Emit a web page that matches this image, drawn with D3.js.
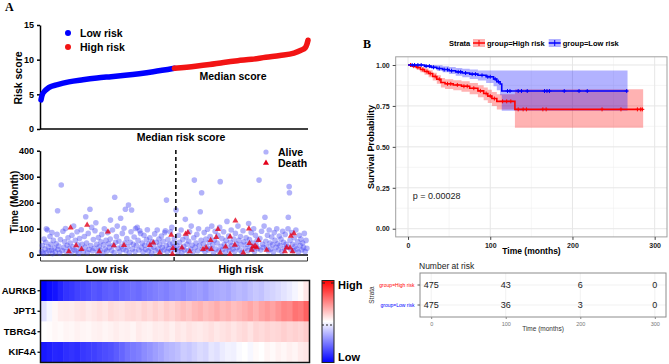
<!DOCTYPE html>
<html>
<head>
<meta charset="utf-8">
<script src="https://cdn.jsdelivr.net/npm/d3@7"></script>
<style>
body { margin: 0; background: #fff; }
svg { display: block; font-family: "Liberation Sans", Arial, sans-serif; }
</style>
</head>
<body>
<svg width="669" height="364"></svg>
<script>
// ---------- panel A data ----------
const nPatients = 950;
const medianRank = 475;
const scoreRank = [1, 5, 15, 30, 60, 100, 150, 200, 250, 300, 350, 400, 475, 550, 600, 650, 700, 750, 800, 850, 900, 925, 940, 946, 950];
const scoreValue = [4.2, 4.9, 5.5, 6.0, 6.4, 6.8, 7.1, 7.35, 7.55, 7.75, 7.98, 8.25, 8.75, 9.05, 9.3, 9.6, 9.85, 10.05, 10.35, 10.6, 10.95, 11.35, 11.7, 12.2, 12.8];

// [patient rank, time in months]
const alivePts = [
  [3,12],[6,35],[9,5],[12,60],[15,22],[18,48],[21,8],[24,95],[27,30],[30,15],[33,70],[36,40],[39,18],[42,4],[45,55],[48,26],[20,100],[40,85],
  [52,10],[55,42],[58,78],[61,20],[64,33],[67,6],[70,58],[73,268],[76,16],[79,90],[82,28],[85,50],[88,101],[91,12],[94,36],[97,65],[60,169],
  [102,24],[105,45],[108,8],[111,75],[114,30],[117,110],[120,18],[123,55],[126,14],[129,88],[132,38],[135,5],[138,62],[141,22],[144,96],[147,40],
  [152,12],[155,70],[158,28],[160,146],[163,45],[166,8],[169,82],[172,20],[175,175],[178,35],[181,105],[184,15],[187,58],[190,25],[193,92],[196,123],[199,40],
  [202,10],[205,66],[208,30],[211,18],[214,50],[217,78],[220,6],[223,38],[226,100],[229,22],[232,55],[235,14],[238,85],[241,42],[244,28],[247,60],[248,133],
  [252,16],[255,95],[258,35],[261,8],[263,221],[266,48],[269,70],[272,110],[275,25],[278,52],[281,12],[284,140],[287,32],[290,82],[293,20],[296,102],[299,45],
  [301,175],[303,15],[306,62],[309,30],[312,191],[315,8],[318,48],[321,88],[323,172],[326,22],[329,40],[332,68],[335,12],[337,101],[340,35],[343,105],[346,55],[349,18],
  [352,92],[355,82],[358,28],[361,45],[364,10],[367,75],[370,36],[373,20],[376,58],[379,96],[382,14],[385,42],[388,65],[391,25],[394,5],[397,50],
  [402,30],[405,80],[408,15],[411,48],[414,95],[417,22],[420,60],[423,38],[426,10],[429,72],[432,28],[435,52],[438,18],[441,85],[443,92],[446,35],[447,210],[449,12],
  [452,58],[455,24],[458,40],[461,88],[464,16],[466,105],[469,45],[472,30],[475,62],[478,20],[481,172],
  [484,35],[487,12],[490,75],[493,48],[496,25],[499,95],[502,8],[505,58],[508,32],[511,18],[514,136],[517,68],[520,40],[523,14],
  [526,52],[529,88],[532,22],[535,110],[538,36],[541,10],[544,65],[546,287],[549,28],[552,45],[555,78],[558,15],[561,100],[564,35],[567,165],[570,55],[572,238],[574,20],
  [578,42],[581,85],[584,12],[587,60],[590,30],[593,98],[596,18],[599,48],[602,70],[605,25],[608,110],[611,38],[614,8],[617,56],[620,90],[623,22],
  [627,45],[630,75],[633,14],[636,105],[638,281],[641,32],[644,62],[647,20],[650,88],[653,40],[656,10],[659,55],[662,128],[665,28],[668,72],[671,16],[674,48],
  [677,95],[680,35],[683,22],[686,60],[689,12],[692,82],[695,42],[698,28],[701,110],[704,55],[707,18],[710,70],[713,38],[716,8],[719,92],[722,50],
  [727,25],[730,65],[733,40],[736,15],[739,120],[742,58],[745,30],[748,85],[751,20],[754,45],[757,100],[760,12],[763,75],[766,35],[769,55],[772,24],[776,287],
  [779,62],[782,18],[785,90],[788,40],[791,28],[794,110],[797,144],[800,52],[803,30],[806,75],[809,15],[812,95],[815,45],[818,22],[821,68],[824,38],
  [827,10],[830,85],[833,55],[836,28],[839,100],[842,42],[845,18],[848,72],[851,35],[854,60],[857,12],[860,90],[863,48],[866,25],[869,78],[872,40],
  [876,30],[879,100],[880,144],[883,262],[884,238],[886,55],[889,20],[892,85],[895,40],[898,15],[901,65],[904,32],[907,95],[910,22],[913,50],[916,10],
  [919,75],[922,35],[925,60],[928,18],[931,45],[934,28],[937,82],[940,12],[943,55],[946,25]
];
const deathPts = [
  [106,104],[165,114],[239,88],[126,35],[145,21],[208,12],[260,35],[296,36],[388,36],[400,46],[464,76],[470,25],[468,3],[423,8],[100,12],
  [515,80],[523,85],[502,27],[530,12],[577,21],[588,27],[630,98],[624,67],[606,21],[638,8],[657,31],[673,69],[673,3],[692,131],[690,37],
  [720,8],[740,100],[742,44],[754,31],[762,33],[768,28],[750,18],[774,56],[803,18],[868,12],[874,28],[886,27],[889,72],[900,82],[895,12],[604,56]
];

const genes = ["AURKB", "JPT1", "TBRG4", "KIF4A"];
const exprAURKB = [-1.0,-0.95,-0.92,-0.86,-0.8,-0.78,-0.74,-0.72,-0.7,-0.66,-0.68,-0.64,-0.62,-0.64,-0.6,-0.58,-0.56,-0.58,-0.54,-0.52,-0.5,-0.48,-0.5,-0.46,-0.44,-0.46,-0.42,-0.4,-0.38,-0.41,-0.36,-0.34,-0.32,-0.34,-0.3,-0.27,-0.29,-0.25,-0.22,-0.24,-0.19,-0.17,-0.14,-0.11,-0.08,-0.04,0.02,0.1];
const exprJPT1 = [-0.12,-0.04,0.03,0.07,0.08,0.07,0.1,0.11,0.08,0.1,0.12,0.1,0.14,0.12,0.11,0.14,0.15,0.13,0.17,0.14,0.18,0.15,0.2,0.17,0.21,0.25,0.22,0.27,0.3,0.25,0.28,0.32,0.27,0.3,0.25,0.28,0.31,0.35,0.3,0.36,0.4,0.36,0.42,0.48,0.46,0.55,0.52,0.62];
const exprTBRG4 = [0.0,0.01,0.03,0.02,0.04,0.03,0.05,0.04,0.03,0.05,0.06,0.04,0.05,0.07,0.05,0.06,0.04,0.08,0.06,0.05,0.08,0.07,0.09,0.06,0.1,0.08,0.11,0.09,0.08,0.1,0.12,0.09,0.11,0.13,0.1,0.13,0.15,0.11,0.16,0.14,0.17,0.15,0.16,0.19,0.16,0.18,0.16,0.2];
const exprKIF4A = [-0.9,-0.88,-0.85,-0.86,-0.82,-0.8,-0.82,-0.78,-0.76,-0.75,-0.72,-0.7,-0.68,-0.64,-0.6,-0.55,-0.52,-0.5,-0.45,-0.42,-0.38,-0.35,-0.3,-0.28,-0.25,-0.2,-0.22,-0.18,-0.14,-0.16,-0.1,-0.12,-0.08,-0.05,-0.06,-0.02,0.0,-0.03,0.02,0.0,0.04,0.02,0.05,0.03,0.06,0.04,0.08,0.1];
const exprRows = [exprAURKB, exprJPT1, exprTBRG4, exprKIF4A];

// ---------- panel B data ----------
const lowTime  = [0, 20, 28, 35, 42, 50, 58, 66, 75, 85, 95, 104, 108, 112, 114];
const lowSurv  = [1.0, 0.993, 0.986, 0.979, 0.972, 0.965, 0.958, 0.951, 0.944, 0.937, 0.928, 0.914, 0.898, 0.884, 0.841];
const lowUpper = [1.0, 1.0, 1.0, 0.998, 0.993, 0.988, 0.982, 0.977, 0.972, 0.966, 0.966, 0.966, 0.966, 0.966, 0.966];
const lowLower = [1.0, 0.985, 0.975, 0.965, 0.955, 0.945, 0.935, 0.925, 0.915, 0.905, 0.89, 0.87, 0.845, 0.815, 0.72];
const lowEnd = 267;
const lowCensor = [5, 8, 12, 16, 22, 26, 31, 38, 44, 48, 53, 61, 64, 70, 78, 82, 90, 97, 100, 106, 110, 121, 124, 134, 138, 145, 166, 169, 172, 190, 208, 218, 266];

const highTime  = [0, 5, 10, 15, 20, 25, 30, 35, 40, 45, 55, 65, 75, 85, 92, 97, 102, 108, 130];
const highSurv  = [1.0, 0.993, 0.985, 0.972, 0.96, 0.948, 0.93, 0.913, 0.893, 0.885, 0.878, 0.87, 0.858, 0.842, 0.826, 0.81, 0.795, 0.778, 0.729];
const highUpper = [1.0, 1.0, 0.997, 0.987, 0.978, 0.968, 0.952, 0.937, 0.92, 0.913, 0.907, 0.9, 0.89, 0.876, 0.862, 0.848, 0.835, 0.822, 0.852];
const highLower = [1.0, 0.985, 0.972, 0.955, 0.94, 0.925, 0.905, 0.886, 0.863, 0.854, 0.846, 0.836, 0.822, 0.803, 0.785, 0.768, 0.75, 0.728, 0.617];
const highEnd = 286;
const highCensor = [3, 7, 12, 18, 23, 27, 33, 38, 48, 52, 60, 68, 72, 80, 88, 95, 100, 105, 115, 120, 125, 134, 140, 144, 164, 168, 236, 259, 279, 283, 285];

const strata = ["group=High risk", "group=Low risk"];
const riskTimes = [0, 100, 200, 300];
const atRiskHigh = [475, 43, 6, 0];
const atRiskLow = [475, 36, 3, 0];

const svg = d3.select("svg");
const RED = "#ff0000", BLUE = "#0000ff";

function styleAxis(g, size, weight, color) {
  g.selectAll("text").style("font-size", size + "px").style("font-weight", weight).attr("fill", color || "#000");
}

// ================= Panel A =================
svg.append("text").attr("x", 5).attr("y", 11).attr("font-family", "Liberation Serif, serif")
  .attr("font-weight", "bold").attr("font-size", 12).text("A");

const rx = d3.scaleLinear().domain([1, nPatients]).range([41, 308]);
const ry = d3.scaleLinear().domain([0, 15]).range([129, 25]);

const yAx1 = svg.append("g").attr("transform", "translate(40,0)")
  .call(d3.axisLeft(ry).tickValues([0, 5, 10, 15]).tickSize(3).tickSizeOuter(0));
yAx1.selectAll("path,line").attr("stroke", "#000").attr("stroke-width", 1.5);
styleAxis(yAx1, 9, "bold");
svg.append("line").attr("x1", 40).attr("x2", 308).attr("y1", 129).attr("y2", 129)
  .attr("stroke", "#000").attr("stroke-width", 1.5);

const scorePts = scoreRank.map((r, i) => [r, scoreValue[i]]);
const scoreLine = d3.line().x(d => rx(d[0])).y(d => ry(d[1])).curve(d3.curveMonotoneX);
svg.append("path").datum(scorePts.filter(d => d[0] <= medianRank))
  .attr("d", scoreLine).attr("fill", "none").attr("stroke", BLUE).attr("stroke-width", 5.5).attr("stroke-linecap", "round");
svg.append("path").datum(scorePts.filter(d => d[0] >= medianRank))
  .attr("d", scoreLine).attr("fill", "none").attr("stroke", "#f21414").attr("stroke-width", 5.5).attr("stroke-linecap", "round");

svg.append("circle").attr("cx", 68).attr("cy", 33).attr("r", 3).attr("fill", BLUE);
svg.append("text").attr("x", 80).attr("y", 37).attr("font-size", 10.5).attr("font-weight", "bold").text("Low risk");
svg.append("circle").attr("cx", 68).attr("cy", 47).attr("r", 3).attr("fill", "#f21414");
svg.append("text").attr("x", 80).attr("y", 51).attr("font-size", 10.5).attr("font-weight", "bold").text("High risk");
svg.append("text").attr("x", 233).attr("y", 80).attr("text-anchor", "middle").attr("font-size", 10.5)
  .attr("font-weight", "bold").text("Median score");
svg.append("text").attr("transform", "translate(22,78) rotate(-90)").attr("text-anchor", "middle")
  .attr("font-size", 10.5).attr("font-weight", "bold").text("Risk score");
svg.append("text").attr("x", 181).attr("y", 141).attr("text-anchor", "middle").attr("font-size", 10.5)
  .attr("font-weight", "bold").text("Median risk score");

// scatter of survival time
const sy = d3.scaleLinear().domain([0, 400]).range([254.7, 150.7]);
const yAx2 = svg.append("g").attr("transform", "translate(40,0)")
  .call(d3.axisLeft(sy).tickValues([0, 100, 200, 300, 400]).tickSize(3).tickSizeOuter(0));
yAx2.selectAll("path,line").attr("stroke", "#000").attr("stroke-width", 1.5);
styleAxis(yAx2, 9, "bold");
svg.append("line").attr("x1", 40).attr("x2", 308).attr("y1", 255).attr("y2", 255)
  .attr("stroke", "#000").attr("stroke-width", 1.5);

svg.append("g").selectAll("circle").data(alivePts).join("circle")
  .attr("cx", d => rx(d[0])).attr("cy", d => sy(d[1])).attr("r", 2.8)
  .attr("fill", "#3f3ff2").attr("fill-opacity", 0.4);
const tri = d3.symbol().type(d3.symbolTriangle).size(16);
svg.append("g").selectAll("path").data(deathPts).join("path")
  .attr("d", tri).attr("transform", d => `translate(${rx(d[0])},${sy(d[1])})`)
  .attr("fill", "#e3001a").attr("fill-opacity", 0.8);

svg.append("line").attr("x1", rx(medianRank) + 1.5).attr("x2", rx(medianRank) + 1.5).attr("y1", 150).attr("y2", 255)
  .attr("stroke", "#000").attr("stroke-width", 1.5).attr("stroke-dasharray", "4,3");

svg.append("circle").attr("cx", 266).attr("cy", 152).attr("r", 2.6).attr("fill", "#3f3ff2").attr("fill-opacity", 0.4);
svg.append("text").attr("x", 278).attr("y", 156).attr("font-size", 10.5).attr("font-weight", "bold").text("Alive");
svg.append("path").attr("d", tri).attr("transform", "translate(266,163)").attr("fill", "#e3001a");
svg.append("text").attr("x", 278).attr("y", 167).attr("font-size", 10.5).attr("font-weight", "bold").text("Death");
svg.append("text").attr("transform", "translate(18,202) rotate(-90)").attr("text-anchor", "middle")
  .attr("font-size", 10).attr("font-weight", "bold").text("Time (Month)");

// group brackets
const brackets = [["Low risk", 1, medianRank], ["High risk", medianRank + 2, nPatients]];
brackets.forEach(b => {
  const x0 = rx(b[1]) - 0.5, x1 = rx(b[2]) - 0.5;
  svg.append("path").attr("d", `M${x0},257 V261 H${x1} V257`).attr("fill", "none")
    .attr("stroke", "#333").attr("stroke-width", 1);
  svg.append("text").attr("x", (x0 + x1) / 2).attr("y", 273).attr("text-anchor", "middle")
    .attr("font-size", 10.5).attr("font-weight", "bold").text(b[0]);
});

// heatmap
const hx = d3.scaleBand().domain(d3.range(exprAURKB.length)).range([41, 309]);
const hy = d3.scaleBand().domain(genes).range([280.5, 362.5]);
const heatColor = d3.scaleLinear().domain([-1, 0, 1]).range([BLUE, "#ffffff", RED]);
genes.forEach((g, gi) => {
  svg.append("g").selectAll("rect").data(exprRows[gi]).join("rect")
    .attr("x", (d, i) => hx(i)).attr("y", hy(g))
    .attr("width", hx.bandwidth() + 0.5).attr("height", hy.bandwidth() + 0.3)
    .attr("fill", d => heatColor(d));
});
svg.append("rect").attr("x", 40.5).attr("y", 280.5).attr("width", 269).attr("height", 82)
  .attr("fill", "none").attr("stroke", "#111").attr("stroke-width", 1.5);
const gAx = svg.append("g").attr("transform", "translate(40,0)")
  .call(d3.axisLeft(hy).tickSize(2.5).tickPadding(1.5).tickSizeOuter(0));
gAx.select(".domain").remove();
gAx.selectAll("line").attr("stroke", "#000").attr("stroke-width", 1.2);
styleAxis(gAx, 9.5, "bold");

// colour legend
const defs = svg.append("defs");
const grad = defs.append("linearGradient").attr("id", "hmgrad").attr("x1", 0).attr("x2", 0).attr("y1", 0).attr("y2", 1);
[[0, RED], [0.5, "#ffffff"], [1, BLUE]].forEach(s =>
  grad.append("stop").attr("offset", s[0]).attr("stop-color", s[1]));
svg.append("rect").attr("x", 322).attr("y", 280.5).attr("width", 12).attr("height", 82)
  .attr("fill", "url(#hmgrad)").attr("stroke", "#222").attr("stroke-width", 1);
svg.append("line").attr("x1", 322).attr("x2", 334).attr("y1", 325).attr("y2", 325)
  .attr("stroke", "#222").attr("stroke-dasharray", "2,2");
svg.append("line").attr("x1", 322).attr("x2", 325).attr("y1", 283).attr("y2", 283).attr("stroke", "#222");
svg.append("line").attr("x1", 331).attr("x2", 334).attr("y1", 283).attr("y2", 283).attr("stroke", "#222");
svg.append("text").attr("x", 338).attr("y", 289).attr("font-size", 11).attr("font-weight", "bold").text("High");
svg.append("text").attr("x", 338).attr("y", 361).attr("font-size", 11).attr("font-weight", "bold").text("Low");

// ================= Panel B =================
svg.append("text").attr("x", 363).attr("y", 48).attr("font-family", "Liberation Serif, serif")
  .attr("font-weight", "bold").attr("font-size", 12).text("B");

const kx = d3.scaleLinear().domain([-15, 315]).range([395.7, 667]);
const ky = d3.scaleLinear().domain([-0.05, 1.05]).range([236.9, 56.8]);

// grid
const gridG = svg.append("g");
[50, 150, 250].forEach(t => gridG.append("line").attr("x1", kx(t)).attr("x2", kx(t)).attr("y1", 56.8).attr("y2", 236.9)
  .attr("stroke", "#f0f0f0").attr("stroke-width", 0.6));
[0.125, 0.375, 0.625, 0.875].forEach(v => gridG.append("line").attr("x1", 395.7).attr("x2", 667).attr("y1", ky(v)).attr("y2", ky(v))
  .attr("stroke", "#f0f0f0").attr("stroke-width", 0.6));
[0, 100, 200, 300].forEach(t => gridG.append("line").attr("x1", kx(t)).attr("x2", kx(t)).attr("y1", 56.8).attr("y2", 236.9)
  .attr("stroke", "#e6e6e6").attr("stroke-width", 1));
[0, 0.25, 0.5, 0.75, 1].forEach(v => gridG.append("line").attr("x1", 395.7).attr("x2", 667).attr("y1", ky(v)).attr("y2", ky(v))
  .attr("stroke", "#e6e6e6").attr("stroke-width", 1));

function stepData(times, surv, lower, upper, end) {
  const pts = times.map((t, i) => ({ t, s: surv[i], lo: lower[i], hi: upper[i] }));
  const last = pts[pts.length - 1];
  pts.push({ t: end, s: last.s, lo: last.lo, hi: last.hi });
  return pts;
}
function survAt(times, surv, t) {
  let s = surv[0];
  times.forEach((tt, i) => { if (tt <= t) s = surv[i]; });
  return s;
}
const groups = [
  { pts: stepData(highTime, highSurv, highLower, highUpper, highEnd), times: highTime, surv: highSurv, cens: highCensor, color: RED },
  { pts: stepData(lowTime, lowSurv, lowLower, lowUpper, lowEnd), times: lowTime, surv: lowSurv, cens: lowCensor, color: BLUE }
];
const band = d3.area().x(d => kx(d.t)).y0(d => ky(d.lo)).y1(d => ky(d.hi)).curve(d3.curveStepAfter);
const step = d3.line().x(d => kx(d.t)).y(d => ky(d.s)).curve(d3.curveStepAfter);
groups.forEach(g => {
  svg.append("path").datum(g.pts).attr("d", band).attr("fill", g.color).attr("fill-opacity", 0.3);
});
groups.forEach(g => {
  svg.append("path").datum(g.pts).attr("d", step).attr("fill", "none").attr("stroke", g.color).attr("stroke-width", 1.6);
  svg.append("g").selectAll("path").data(g.cens).join("path")
    .attr("d", d => { const x = kx(d), y = ky(survAt(g.times, g.surv, d)); return `M${x - 2},${y}H${x + 2}M${x},${y - 2}V${y + 2}`; })
    .attr("stroke", g.color).attr("stroke-width", 1);
});

svg.append("rect").attr("x", 395.7).attr("y", 56.8).attr("width", 271.3).attr("height", 180.1)
  .attr("fill", "none").attr("stroke", "#a0a0a0").attr("stroke-width", 1);

const kyAx = svg.append("g").attr("transform", "translate(395.7,0)")
  .call(d3.axisLeft(ky).tickValues([0, 0.25, 0.5, 0.75, 1]).tickFormat(d3.format(".2f")).tickSize(3).tickSizeOuter(0));
kyAx.select(".domain").remove();
kyAx.selectAll("line").attr("stroke", "#444");
styleAxis(kyAx, 7, "bold", "#222");
const kxAx = svg.append("g").attr("transform", "translate(0,236.9)")
  .call(d3.axisBottom(kx).tickValues(riskTimes).tickSize(3).tickSizeOuter(0));
kxAx.select(".domain").remove();
kxAx.selectAll("line").attr("stroke", "#444");
styleAxis(kxAx, 7, "bold", "#222");

svg.append("text").attr("transform", "translate(374,147) rotate(-90)").attr("text-anchor", "middle")
  .attr("font-size", 9).attr("font-weight", "bold").text("Survival Probability");
svg.append("text").attr("x", 531.5).attr("y", 254).attr("text-anchor", "middle")
  .attr("font-size", 8.5).attr("font-weight", "bold").text("Time (months)");
svg.append("text").attr("x", 412.7).attr("y", 199).attr("font-size", 9).attr("fill", "#222").text("p = 0.00028");

// legend
svg.append("text").attr("x", 449).attr("y", 46).attr("font-size", 7.5).attr("font-weight", "bold").text("Strata");
let lx = 473;
[["group=High risk", RED], ["group=Low risk", BLUE]].forEach(s => {
  svg.append("rect").attr("x", lx).attr("y", 39).attr("width", 12).attr("height", 8).attr("fill", s[1]).attr("fill-opacity", 0.3);
  svg.append("line").attr("x1", lx).attr("x2", lx + 12).attr("y1", 43).attr("y2", 43).attr("stroke", s[1]).attr("stroke-width", 1.5);
  svg.append("path").attr("d", `M${lx + 6},40V46`).attr("stroke", s[1]).attr("stroke-width", 1);
  const t = svg.append("text").attr("x", lx + 14).attr("y", 46).attr("font-size", 7.5).attr("font-weight", "bold").text(s[0]);
  lx += 14 + t.node().getComputedTextLength() + 4;
});

// risk table
const tx = d3.scaleLinear().domain([-15, 315]).range([420, 666]);
const ty = d3.scaleBand().domain(strata).range([273, 317]).paddingOuter(0.1);
svg.append("text").attr("x", 419).attr("y", 269).attr("font-size", 8.5).attr("fill", "#222").text("Number at risk");
[0, 100, 200, 300].forEach(t => svg.append("line").attr("x1", tx(t)).attr("x2", tx(t)).attr("y1", 273).attr("y2", 317)
  .attr("stroke", "#ededed").attr("stroke-width", 0.8));
strata.forEach(s => svg.append("line").attr("x1", 420).attr("x2", 666).attr("y1", ty(s) + ty.bandwidth() / 2).attr("y2", ty(s) + ty.bandwidth() / 2)
  .attr("stroke", "#ededed").attr("stroke-width", 0.8));
svg.append("rect").attr("x", 420).attr("y", 273).attr("width", 246).attr("height", 44)
  .attr("fill", "none").attr("stroke", "#8c8c8c").attr("stroke-width", 1);
[[atRiskHigh, strata[0]], [atRiskLow, strata[1]]].forEach(r => {
  svg.append("g").selectAll("text").data(r[0]).join("text")
    .attr("x", (d, i) => tx(riskTimes[i])).attr("y", ty(r[1]) + ty.bandwidth() / 2 + 3.2)
    .attr("text-anchor", "middle").attr("font-size", 9).attr("fill", "#222").text(d => d);
});
const tyAx = svg.append("g").attr("transform", "translate(420,0)").call(d3.axisLeft(ty).tickSize(2.5).tickSizeOuter(0));
tyAx.select(".domain").remove();
tyAx.selectAll("line").attr("stroke", "#555");
tyAx.selectAll("text").style("font-size", "5px").attr("fill", (d, i) => i === 0 ? RED : BLUE);
const txAx = svg.append("g").attr("transform", "translate(0,317)")
  .call(d3.axisBottom(tx).tickValues(riskTimes).tickSize(2).tickSizeOuter(0));
txAx.select(".domain").remove();
txAx.selectAll("line").attr("stroke", "#888");
styleAxis(txAx, 5.5, "normal", "#777");
svg.append("text").attr("x", 543).attr("y", 331).attr("text-anchor", "middle").attr("font-size", 6.5).attr("fill", "#333").text("Time (months)");
svg.append("text").attr("transform", "translate(374,295) rotate(-90)").attr("text-anchor", "middle")
  .attr("font-size", 6.5).attr("fill", "#333").text("Strata");
</script>
</body>
</html>
